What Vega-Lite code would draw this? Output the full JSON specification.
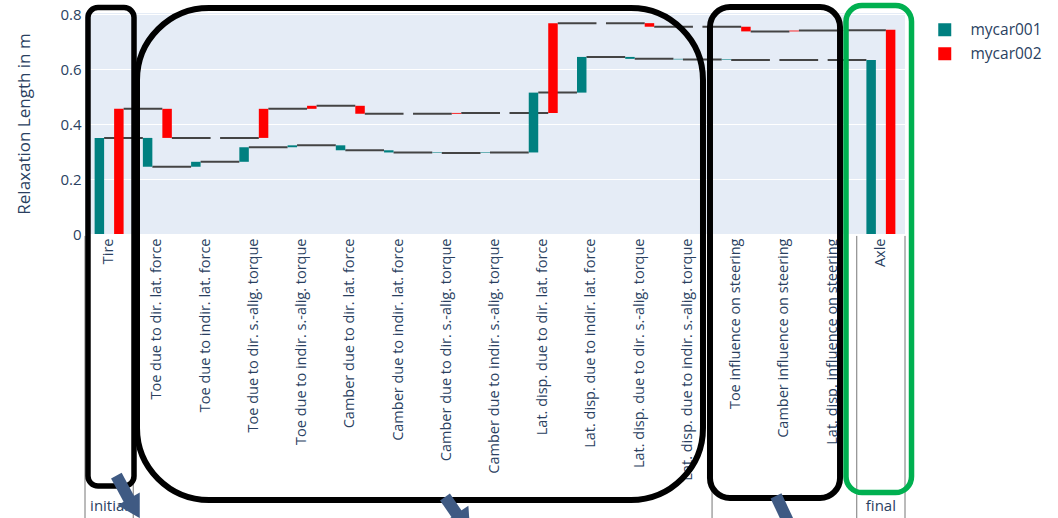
{
  "$schema": "https://vega.github.io/schema/vega-lite/v6.json",
  "autosize": {"type": "none"},
  "padding": {"left": 85, "top": 13, "right": 153, "bottom": 284},
  "width": 820,
  "height": 221,
  "background": "white",
  "config": {"font": "Open Sans", "view": {"fill": "#E5ECF6", "stroke": null}},
  "datasets": {
    "wf": [
      {"category": "Tire", "car": "mycar001", "start": 0, "end": 0.350, "next": "Toe due to dir. lat. force"},
      {"category": "Toe due to dir. lat. force", "car": "mycar001", "start": 0.350, "end": 0.245, "next": "Toe due to indir. lat. force"},
      {"category": "Toe due to indir. lat. force", "car": "mycar001", "start": 0.245, "end": 0.263, "next": "Toe due to dir. s.-alig. torque"},
      {"category": "Toe due to dir. s.-alig. torque", "car": "mycar001", "start": 0.263, "end": 0.316, "next": "Toe due to indir. s.-alig. torque"},
      {"category": "Toe due to indir. s.-alig. torque", "car": "mycar001", "start": 0.316, "end": 0.323, "next": "Camber due to dir. lat. force"},
      {"category": "Camber due to dir. lat. force", "car": "mycar001", "start": 0.323, "end": 0.305, "next": "Camber due to indir. lat. force"},
      {"category": "Camber due to indir. lat. force", "car": "mycar001", "start": 0.305, "end": 0.297, "next": "Camber due to dir. s.-alig. torque"},
      {"category": "Camber due to dir. s.-alig. torque", "car": "mycar001", "start": 0.297, "end": 0.295, "next": "Camber due to indir. s.-alig. torque"},
      {"category": "Camber due to indir. s.-alig. torque", "car": "mycar001", "start": 0.295, "end": 0.297, "next": "Lat. disp. due to dir. lat. force"},
      {"category": "Lat. disp. due to dir. lat. force", "car": "mycar001", "start": 0.297, "end": 0.515, "next": "Lat. disp. due to indir. lat. force"},
      {"category": "Lat. disp. due to indir. lat. force", "car": "mycar001", "start": 0.515, "end": 0.645, "next": "Lat. disp. due to dir. s.-alig. torque"},
      {"category": "Lat. disp. due to dir. s.-alig. torque", "car": "mycar001", "start": 0.645, "end": 0.638, "next": "Lat. disp. due to indir. s.-alig. torque"},
      {"category": "Lat. disp. due to indir. s.-alig. torque", "car": "mycar001", "start": 0.638, "end": 0.636, "next": "Toe influence on steering"},
      {"category": "Toe influence on steering", "car": "mycar001", "start": 0.636, "end": 0.634, "next": "Camber influence on steering"},
      {"category": "Camber influence on steering", "car": "mycar001", "start": 0.634, "end": 0.634, "next": "Lat. disp. influence on steering"},
      {"category": "Lat. disp. influence on steering", "car": "mycar001", "start": 0.634, "end": 0.634, "next": "Axle"},
      {"category": "Axle", "car": "mycar001", "start": 0, "end": 0.634, "next": null},
      {"category": "Tire", "car": "mycar002", "start": 0, "end": 0.456, "next": "Toe due to dir. lat. force"},
      {"category": "Toe due to dir. lat. force", "car": "mycar002", "start": 0.456, "end": 0.350, "next": "Toe due to indir. lat. force"},
      {"category": "Toe due to indir. lat. force", "car": "mycar002", "start": 0.350, "end": 0.350, "next": "Toe due to dir. s.-alig. torque"},
      {"category": "Toe due to dir. s.-alig. torque", "car": "mycar002", "start": 0.350, "end": 0.456, "next": "Toe due to indir. s.-alig. torque"},
      {"category": "Toe due to indir. s.-alig. torque", "car": "mycar002", "start": 0.456, "end": 0.467, "next": "Camber due to dir. lat. force"},
      {"category": "Camber due to dir. lat. force", "car": "mycar002", "start": 0.467, "end": 0.438, "next": "Camber due to indir. lat. force"},
      {"category": "Camber due to indir. lat. force", "car": "mycar002", "start": 0.438, "end": 0.438, "next": "Camber due to dir. s.-alig. torque"},
      {"category": "Camber due to dir. s.-alig. torque", "car": "mycar002", "start": 0.438, "end": 0.441, "next": "Camber due to indir. s.-alig. torque"},
      {"category": "Camber due to indir. s.-alig. torque", "car": "mycar002", "start": 0.441, "end": 0.441, "next": "Lat. disp. due to dir. lat. force"},
      {"category": "Lat. disp. due to dir. lat. force", "car": "mycar002", "start": 0.441, "end": 0.768, "next": "Lat. disp. due to indir. lat. force"},
      {"category": "Lat. disp. due to indir. lat. force", "car": "mycar002", "start": 0.768, "end": 0.768, "next": "Lat. disp. due to dir. s.-alig. torque"},
      {"category": "Lat. disp. due to dir. s.-alig. torque", "car": "mycar002", "start": 0.768, "end": 0.755, "next": "Lat. disp. due to indir. s.-alig. torque"},
      {"category": "Lat. disp. due to indir. s.-alig. torque", "car": "mycar002", "start": 0.755, "end": 0.755, "next": "Toe influence on steering"},
      {"category": "Toe influence on steering", "car": "mycar002", "start": 0.755, "end": 0.738, "next": "Camber influence on steering"},
      {"category": "Camber influence on steering", "car": "mycar002", "start": 0.738, "end": 0.741, "next": "Lat. disp. influence on steering"},
      {"category": "Lat. disp. influence on steering", "car": "mycar002", "start": 0.741, "end": 0.742, "next": "Axle"},
      {"category": "Axle", "car": "mycar002", "start": 0, "end": 0.744, "next": null}
    ],
    "groups": [
      {"group": "initial", "first": "Tire", "last": "Tire"},
      {"group": "", "first": "Toe due to dir. lat. force", "last": "Lat. disp. due to indir. s.-alig. torque"},
      {"group": "", "first": "Toe influence on steering", "last": "Lat. disp. influence on steering"},
      {"group": "final", "first": "Axle", "last": "Axle"}
    ],
    "boxes": [
      {"box": "b1", "x1": -0.438, "x2": 0.516, "y1": 0.825, "y2": -0.918},
      {"box": "b2", "x1": 0.578, "x2": 12.312, "y1": 0.823, "y2": -0.969},
      {"box": "b3", "x1": 12.457, "x2": 15.153, "y1": 0.827, "y2": -0.962},
      {"box": "b4", "x1": 15.277, "x2": 16.635, "y1": 0.832, "y2": -0.942}
    ],
    "arrows": [
      {"arrow": "a1", "x1": 0.15, "x2": 0.44, "y1": -0.88, "y2": -0.975, "hx": 0.52, "hy": -1.0},
      {"arrow": "a2", "x1": 6.963, "x2": 7.233, "y1": -0.958, "y2": -1.027, "hx": 7.357, "hy": -1.049},
      {"arrow": "a3", "x1": 13.826, "x2": 14.158, "y1": -0.954, "y2": -1.078, "hx": 14.25, "hy": -1.12}
    ]
  },
  "resolve": {"scale": {"x": "independent"}},
  "layer": [
    {
      "data": {"name": "wf"},
      "layer": [
        {
          "transform": [{"filter": "datum.car == 'mycar001' && datum.next != null"}],
          "mark": {"type": "rule", "color": "#444444", "strokeWidth": 2, "xOffset": -5, "x2Offset": -14.5},
          "encoding": {
            "x": {"field": "category", "type": "nominal", "sort": null,
              "scale": {"type": "band", "domain": ["Tire","Toe due to dir. lat. force","Toe due to indir. lat. force","Toe due to dir. s.-alig. torque","Toe due to indir. s.-alig. torque","Camber due to dir. lat. force","Camber due to indir. lat. force","Camber due to dir. s.-alig. torque","Camber due to indir. s.-alig. torque","Lat. disp. due to dir. lat. force","Lat. disp. due to indir. lat. force","Lat. disp. due to dir. s.-alig. torque","Lat. disp. due to indir. s.-alig. torque","Toe influence on steering","Camber influence on steering","Lat. disp. influence on steering","Axle"], "paddingInner": 0, "paddingOuter": 0},
              "axis": {"title": null, "labelAngle": -90, "labelAlign": "right", "labelBaseline": "middle", "labelFontSize": 14.5, "labelColor": "#2a3f5f", "labelPadding": 4, "labelLimit": 400, "domain": false, "ticks": false, "grid": false}},
            "x2": {"field": "next"},
            "y": {"field": "end", "type": "quantitative",
              "scale": {"domain": [0, 0.805], "nice": false, "zero": false},
              "axis": {"title": "Relaxation Length in m", "titleFontSize": 17, "titleFontWeight": "normal", "titleColor": "#2a3f5f", "titlePadding": 26, "labelFontSize": 15, "labelColor": "#2a3f5f", "labelPadding": 4, "values": [0, 0.2, 0.4, 0.6, 0.8], "format": "~g", "grid": true, "gridColor": "white", "gridWidth": 1, "gridOpacity": 1, "domain": false, "ticks": false}}
          }
        },
        {
          "transform": [{"filter": "datum.car == 'mycar002' && datum.next != null"}],
          "mark": {"type": "rule", "color": "#444444", "strokeWidth": 2, "xOffset": 14.5, "x2Offset": 5},
          "encoding": {
            "x": {"field": "category", "type": "nominal", "sort": null},
            "x2": {"field": "next"},
            "y": {"field": "end", "type": "quantitative"}
          }
        },
        {
          "mark": {"type": "bar"},
          "encoding": {
            "x": {"field": "category", "type": "nominal", "sort": null},
            "xOffset": {"field": "car", "type": "nominal", "scale": {"paddingInner": 0.513, "paddingOuter": 0.494}},
            "y": {"field": "start", "type": "quantitative"},
            "y2": {"field": "end"},
            "color": {"field": "car", "type": "nominal",
              "scale": {"domain": ["mycar001", "mycar002"], "range": ["#008080", "#ff0000"]},
              "legend": {"orient": "none", "legendX": 852, "legendY": 9, "title": null, "symbolType": "square", "symbolSize": 169, "symbolStrokeWidth": 0, "labelFontSize": 15.5, "labelColor": "#2a3f5f", "labelOffset": 18, "rowPadding": 7, "padding": 0}}
          }
        },
        {
          "data": {"name": "groups"},
          "mark": {"type": "rule", "color": "#777777", "strokeWidth": 1},
          "encoding": {
            "x": {"field": "first", "type": "nominal", "bandPosition": 0},
            "y": {"datum": -0.007},
            "y2": {"datum": -1.05}
          }
        },
        {
          "data": {"name": "groups"},
          "transform": [{"filter": "datum.group == 'final'"}],
          "mark": {"type": "rule", "color": "#777777", "strokeWidth": 1},
          "encoding": {
            "x": {"field": "last", "type": "nominal", "bandPosition": 1},
            "y": {"datum": -0.007},
            "y2": {"datum": -1.05}
          }
        },
        {
          "data": {"name": "groups"},
          "transform": [{"filter": "datum.group != ''"}],
          "mark": {"type": "text", "fontSize": 15, "color": "#2a3f5f", "baseline": "middle", "align": "center"},
          "encoding": {
            "x": {"field": "first", "type": "nominal", "bandPosition": 0.5},
            "y": {"datum": -0.99},
            "text": {"field": "group"}
          }
        }
      ]
    },
    {
      "layer": [
        {
          "data": {"name": "boxes"},
          "transform": [{"filter": "datum.box == 'b1'"}],
          "mark": {"type": "rect", "filled": false, "stroke": "black", "strokeWidth": 5.5, "cornerRadius": 10},
          "encoding": {
            "x": {"field": "x1", "type": "quantitative", "scale": {"domain": [-0.5, 16.5], "nice": false, "zero": false}, "axis": null},
            "x2": {"field": "x2"},
            "y": {"field": "y1", "type": "quantitative"},
            "y2": {"field": "y2"}
          }
        },
        {
          "data": {"name": "boxes"},
          "transform": [{"filter": "datum.box == 'b2'"}],
          "mark": {"type": "rect", "filled": false, "stroke": "black", "strokeWidth": 6, "cornerRadius": 72},
          "encoding": {
            "x": {"field": "x1", "type": "quantitative"},
            "x2": {"field": "x2"},
            "y": {"field": "y1", "type": "quantitative"},
            "y2": {"field": "y2"}
          }
        },
        {
          "data": {"name": "boxes"},
          "transform": [{"filter": "datum.box == 'b3'"}],
          "mark": {"type": "rect", "filled": false, "stroke": "black", "strokeWidth": 6, "cornerRadius": 20},
          "encoding": {
            "x": {"field": "x1", "type": "quantitative"},
            "x2": {"field": "x2"},
            "y": {"field": "y1", "type": "quantitative"},
            "y2": {"field": "y2"}
          }
        },
        {
          "data": {"name": "boxes"},
          "transform": [{"filter": "datum.box == 'b4'"}],
          "mark": {"type": "rect", "filled": false, "stroke": "#00b050", "strokeWidth": 5.5, "cornerRadius": 16},
          "encoding": {
            "x": {"field": "x1", "type": "quantitative"},
            "x2": {"field": "x2"},
            "y": {"field": "y1", "type": "quantitative"},
            "y2": {"field": "y2"}
          }
        },
        {
          "data": {"name": "arrows"},
          "mark": {"type": "rule", "color": "#3f5a83", "strokeWidth": 12, "strokeCap": "butt"},
          "encoding": {
            "x": {"field": "x1", "type": "quantitative"},
            "x2": {"field": "x2"},
            "y": {"field": "y1", "type": "quantitative"},
            "y2": {"field": "y2"}
          }
        },
        {
          "data": {"name": "arrows"},
          "transform": [{"filter": "datum.arrow == 'a1'"}],
          "mark": {"type": "point", "shape": "triangle-up", "filled": true, "color": "#3f5a83", "opacity": 1, "size": 650, "angle": 150},
          "encoding": {
            "x": {"field": "hx", "type": "quantitative"},
            "y": {"field": "hy", "type": "quantitative"}
          }
        },
        {
          "data": {"name": "arrows"},
          "transform": [{"filter": "datum.arrow == 'a2'"}],
          "mark": {"type": "point", "shape": "triangle-up", "filled": true, "color": "#3f5a83", "opacity": 1, "size": 650, "angle": 146},
          "encoding": {
            "x": {"field": "hx", "type": "quantitative"},
            "y": {"field": "hy", "type": "quantitative"}
          }
        }
      ]
    }
  ]
}
